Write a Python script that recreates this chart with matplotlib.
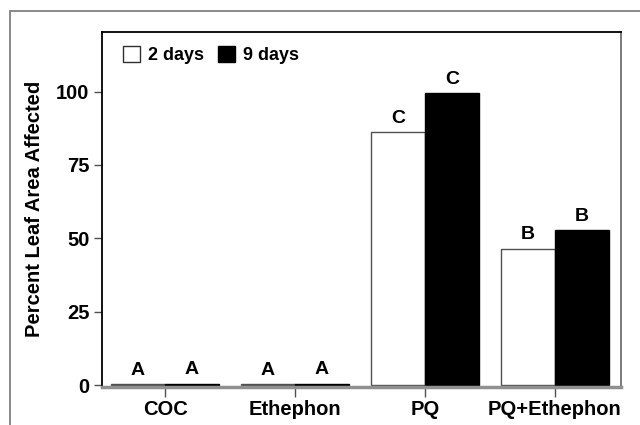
import matplotlib
matplotlib.use('Agg')
import matplotlib.pyplot as plt
from matplotlib.patches import Patch, Rectangle
import numpy as np

# data
treatments = ['COC', 'Ethephon', 'PQ', 'PQ+Ethephon']
day2 = [0.3, 0.3, 86.2, 46.5]
day9 = [0.5, 0.5, 99.5, 52.8]
letters2 = ['A', 'A', 'C', 'B']
letters9 = ['A', 'A', 'C', 'B']
yticks = [0, 25, 50, 75, 100]

plt.rcParams['font.family'] = ['Liberation Sans', 'DejaVu Sans']
plt.rcParams['font.weight'] = 'bold'

fig = plt.figure(figsize=(6.4, 4.25), dpi=100)
# outer grey frame
fig.patches.append(Rectangle((10 / 640, -0.05), 1.1, 1 - 11 / 425 + 0.05,
                             transform=fig.transFigure, fill=False,
                             edgecolor='#808080', linewidth=1.3))

ax = fig.add_axes([102 / 640, 1 - 386.5 / 425, 519 / 640, 355 / 425])

x = np.arange(len(treatments))
w = 0.415
b1 = ax.bar(x - w / 2, day2, w, color='white', edgecolor='#505050', linewidth=1.0)
b2 = ax.bar(x + w / 2, day9, w, color='black', edgecolor='black', linewidth=1.0)

for rect, lab in zip(list(b1) + list(b2), letters2 + letters9):
    ax.annotate(lab, (rect.get_x() + rect.get_width() / 2, rect.get_height()),
                xytext=(0, 4), textcoords='offset points', ha='center', va='bottom',
                fontsize=14, fontweight='bold')

ax.set_xlim(-0.485, 3.508)
ax.set_ylim(-0.5, 120.5)
ax.set_yticks(yticks)
ax.set_xticks(x)
ax.set_xticklabels(treatments, fontsize=14.5, fontweight='bold')
ax.set_yticklabels([str(v) for v in yticks], fontsize=14.5, fontweight='bold')
ax.set_ylabel('Percent Leaf Area Affected', fontsize=14.5, fontweight='bold', labelpad=9)

ax.tick_params(axis='y', direction='out', length=6, width=1, color='#505050', pad=3)
ax.tick_params(axis='x', direction='out', length=7, width=1, color='#505050', pad=3)

ax.spines['left'].set_color('black')
ax.spines['left'].set_linewidth(1.3)
ax.spines['top'].set_color('black')
ax.spines['top'].set_linewidth(1.3)
ax.spines['right'].set_color('#707070')
ax.spines['right'].set_linewidth(1.3)
ax.spines['bottom'].set_color('#909090')
ax.spines['bottom'].set_linewidth(2.5)

handles = [Patch(facecolor='white', edgecolor='#303030', label='2 days'),
           Patch(facecolor='black', edgecolor='black', label='9 days')]
ax.legend(handles=handles, loc='upper left', bbox_to_anchor=(0.040, 0.959),
          ncol=2, frameon=False, borderaxespad=0, borderpad=0,
          handlelength=0.95, handleheight=0.95, handletextpad=0.45, columnspacing=0.75,
          prop={'weight': 'bold', 'size': 13})

fig.savefig('out.png', dpi=100)
